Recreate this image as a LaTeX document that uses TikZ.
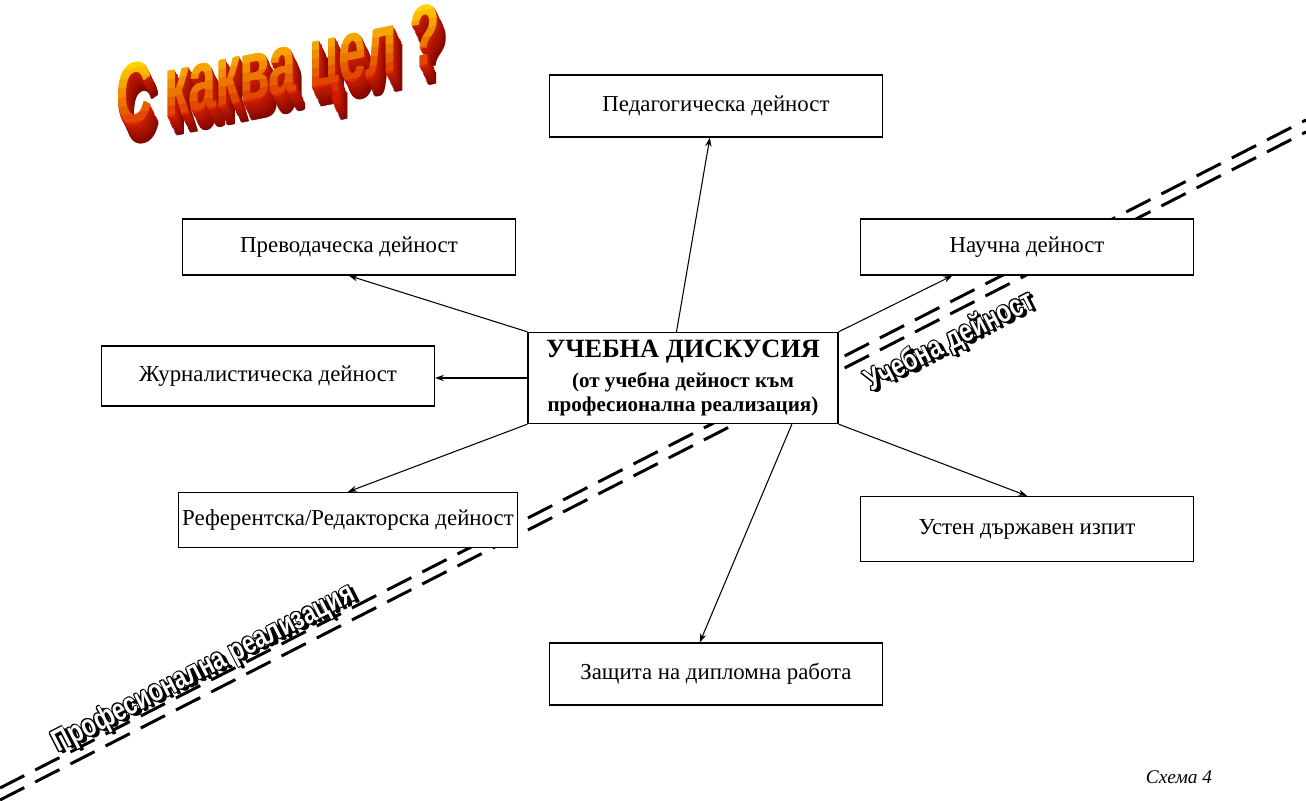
\documentclass[tikz,border=0pt]{standalone}
\usepackage{fontspec}
\setmainfont{Liberation Serif}
\newfontfamily\labelfont{Liberation Sans}
\usetikzlibrary{arrows.meta}

\definecolor{waTop}{RGB}{255,210,0}
\definecolor{waBot}{RGB}{215,25,0}
\definecolor{waDeep}{RGB}{110,0,0}
\definecolor{waEdge}{RGB}{205,30,0}

\tikzset{
  actbox/.style={draw, line width=0.8pt, fill=white, minimum width=6.66cm,
    inner sep=2pt, font=\fontsize{13}{15}\selectfont},
  link/.style={-{Stealth[length=5pt,width=3.6pt]}, line width=0.6pt},
  realline/.style={line width=1.7pt, dash pattern=on 15.5pt off 7pt},
  slantlabel/.style={font=\labelfont\bfseries\fontsize{17.5}{17.5}\selectfont,
    rotate=27.1, xscale=0.77, inner sep=0pt},
  watext/.style={anchor=base west, inner sep=0pt,
    font=\labelfont\bfseries\fontsize{50}{50}\selectfont}
}

% outlined text with a drop shadow, along the dashed line
\newcommand\ridgelabel[3]{%
  \foreach \dx/\dy in {1.6/-1.6,2.2/-2.2}
    \node[slantlabel, text=black] at #2 [xshift=\dx pt, yshift=\dy pt] {#3};
  \foreach \dx/\dy in {0.7/0,-0.7/0,0/0.7,0/-0.7,0.5/0.5,-0.5/0.5,0.5/-0.5,-0.5/-0.5}
    \node[slantlabel, text=black] at #2 [xshift=\dx pt, yshift=\dy pt] {#3};
  \node[slantlabel, text=white] (#1) at #2 {#3};
}

\begin{document}
\begin{tikzpicture}[x=0.02cm, y=-0.02cm]
  \useasboundingbox (0,0) rectangle (1306,801);

  % the border between study and career
  \draw[realline] (0,788) -- (1306,120);
  \draw[realline] (0,800) -- (1306,132);

  \ridgelabel{career}{(204,669)}{Професионална реализация}
  \ridgelabel{study}{(950,342)}{Учебна дейност}

  % title
  \begin{scope}[shift={(116,128)}, yslant=0.2, xscale=0.55, transform shape]
    \foreach \k in {16,15,...,1}{
      \pgfmathsetmacro\mixval{100-\k*5}
      \foreach \b in {0,1.5}
        \node[watext, text=waEdge!\mixval!waDeep] at (\k*1.0+\b,\k*1.25) {С каква цел ?};
    }
    \foreach \j in {0,...,8}{
      \pgfmathsetmacro\mixval{\j*100/8}
      \begin{scope}
        \clip (-20,{15-9*\j}) rectangle (700,{\j==8 ? -120 : 6-9*\j});
        \foreach \b in {0,1.5}
          \node[watext, text=waTop!\mixval!waBot] at (\b,0) {С каква цел ?};
      \end{scope}
    }
    \node[watext, text opacity=0] (title) at (0,0) {С каква цел ?};
  \end{scope}

  % activity boxes
  \node[actbox, minimum height=1.24cm] (ped) at (716,106) {Педагогическа дейност};
  \node[actbox, minimum height=1.12cm] (prev) at (349,247) {Преводаческа дейност};
  \node[actbox, minimum height=1.12cm] (nauch) at (1027,247) {Научна дейност};
  \node[actbox, minimum height=1.2cm] (journ) at (268,376) {Журналистическа дейност};
  \node[actbox, minimum height=1.1cm] (ref) at (348,520) {Референтска/Редакторска дейност};
  \node[actbox, minimum height=1.3cm] (ustan) at (1027,529) {Устен държавен изпит};
  \node[actbox, minimum height=1.24cm] (zasht) at (716,674) {Защита на дипломна работа};

  \node[actbox, minimum width=6.2cm, minimum height=1.82cm, align=center,
    font=\bfseries\fontsize{12}{13.6}\selectfont] (disc) at (683,378)
    {{\fontsize{15}{17}\selectfont УЧЕБНА ДИСКУСИЯ}\\[3pt]
     (от учебна дейност към\\професионална реализация)};

  % arrows out of the discussion
  \draw[link] (disc.98) -- (ped.259);
  \draw[link] (disc.north west) -- (prev.south);
  \draw[link] (disc.west) -- (disc.west -| journ.east);
  \draw[link] (disc.south west) -- (ref.north);
  \draw[link] (disc.north east) -- (nauch.201);
  \draw[link] (disc.south east) -- (ustan.north);
  \draw[link] (disc.-23) -- (zasht.117);

  \node[font=\itshape\fontsize{11}{13}\selectfont] (caption) at (1179,777) {Схема 4};
\end{tikzpicture}
\end{document}
